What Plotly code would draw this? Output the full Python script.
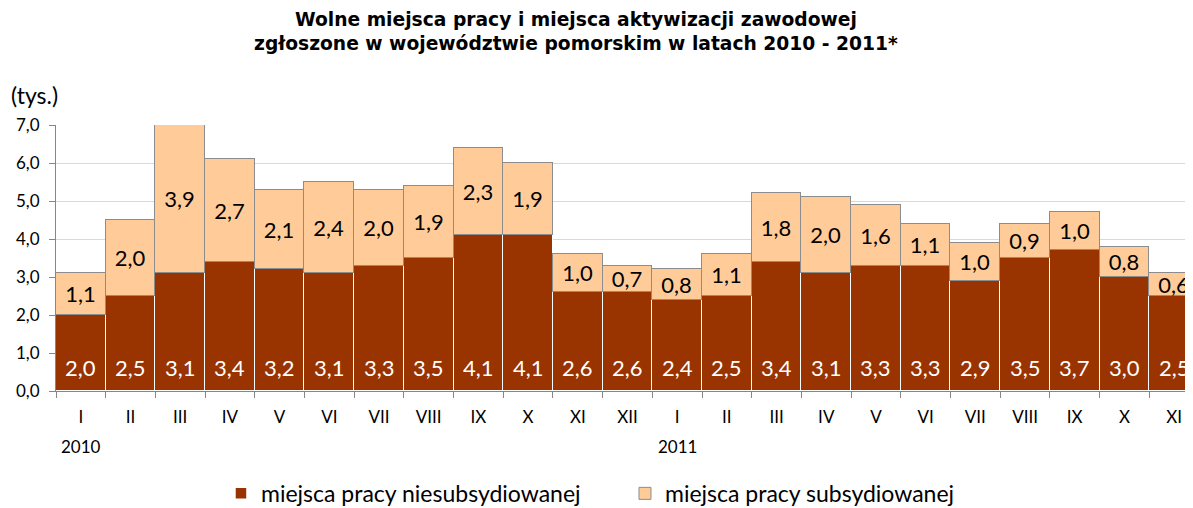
import plotly.graph_objects as go

months = ["I", "II", "III", "IV", "V", "VI", "VII", "VIII", "IX", "X", "XI", "XII",
          "I", "II", "III", "IV", "V", "VI", "VII", "VIII", "IX", "X", "XI"]
years = ["2010"] + [""] * 11 + ["2011"] + [""] * 10
niesub = [2.0, 2.5, 3.1, 3.4, 3.2, 3.1, 3.3, 3.5, 4.1, 4.1, 2.6, 2.6,
          2.4, 2.5, 3.4, 3.1, 3.3, 3.3, 2.9, 3.5, 3.7, 3.0, 2.5]
sub = [1.1, 2.0, 3.9, 2.7, 2.1, 2.4, 2.0, 1.9, 2.3, 1.9, 1.0, 0.7,
       0.8, 1.1, 1.8, 2.0, 1.6, 1.1, 1.0, 0.9, 1.0, 0.8, 0.6]
y_ticks = [0, 1, 2, 3, 4, 5, 6, 7]

x = list(range(len(months)))
fmt = lambda v: f"{v:.1f}".replace(".", ",")

FONT = "Lato"

fig = go.Figure()
fig.add_trace(go.Bar(
    x=x, y=niesub, name="miejsca pracy niesubsydiowanej",
    marker=dict(color="#993300", line=dict(color="white", width=1.5)),
    hoverinfo="y",
))
fig.add_trace(go.Bar(
    x=x, y=sub, name="miejsca pracy subsydiowanej",
    marker=dict(color="#FFCC99", line=dict(color="#8c8c8c", width=1)),
    text=[fmt(v) for v in sub], textposition="inside", insidetextanchor="middle",
    textangle=0, textfont=dict(family=FONT, size=22, color="black"),
    constraintext="none",
))

annotations = []
for i, v in enumerate(niesub):
    annotations.append(dict(x=i, y=0.63, xref="x", yref="y", text=fmt(v), showarrow=False,
                            font=dict(family=FONT, size=22, color="white")))
for i, yr in enumerate(years):
    if yr:
        annotations.append(dict(x=i, y=-0.21, xref="x", yref="paper", text=yr, showarrow=False,
                                font=dict(family=FONT, size=17, color="black"), yanchor="middle"))
annotations.append(dict(x=0.457, y=1.35, xref="paper", yref="paper",
                        text="Wolne miejsca pracy i miejsca aktywizacji zawodowej<br>zgłoszone w województwie pomorskim w latach 2010 - 2011*",
                        showarrow=False, align="center",
                        font=dict(family="DejaVu Sans", size=18.7, color="black", weight="bold"),
                        yanchor="middle"))
annotations.append(dict(x=-0.041, y=1.113, xref="paper", yref="paper", text="(tys.)",
                        showarrow=False, xanchor="left", yanchor="middle",
                        font=dict(family=FONT, size=23, color="black")))

# page body adds an 8px offset; figure is sized to the remaining window
fig.update_layout(
    width=1185, height=500,
    margin=dict(l=48, r=0, t=117, b=117, autoexpand=False),
    barmode="stack", bargap=0.0,
    plot_bgcolor="white", paper_bgcolor="white",
    separators=", ",
    showlegend=True,
    legend=dict(orientation="h", x=0.1451, xanchor="left", y=-0.385, yanchor="middle",
                traceorder="normal",
                font=dict(family=FONT, size=23, color="black"), entrywidth=359, itemwidth=30),
    annotations=annotations,
    font=dict(family=FONT),
)
fig.update_xaxes(
    tickmode="array", tickvals=x, ticktext=months, range=[-0.5, 22.38],
    showline=True, linecolor="#868686", linewidth=1,
    ticks="outside", ticklen=0, tickcolor="#868686",
    showgrid=False, tickfont=dict(family=FONT, size=17, color="black"),
    ticklabelstandoff=11,
    minor=dict(tickvals=[i - 0.5 for i in x], ticks="outside", ticklen=6, tickcolor="#868686"),
)
fig.update_yaxes(
    range=[0, 7.0], tickvals=y_ticks, tickformat=".1f",
    showline=True, linecolor="#868686", linewidth=1,
    ticks="outside", ticklen=6, tickcolor="#868686",
    showgrid=True, gridcolor="#d9d9d9", gridwidth=1,
    tickfont=dict(family=FONT, size=17, color="black"),
    ticklabelstandoff=6,
    zeroline=False,
)

fig.write_html("out.html")
